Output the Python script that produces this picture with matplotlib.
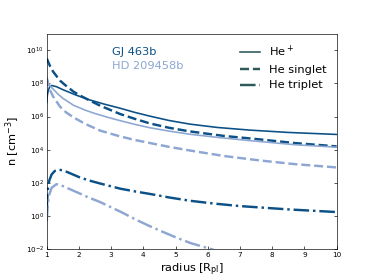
import numpy as np
import matplotlib
matplotlib.use("Agg")
import matplotlib.pyplot as plt

# values, log10 of n [cm^-3] against radius [R_pl]
gj_hep_r = [1.0, 1.02, 1.05, 1.1, 1.15, 1.3, 1.5, 1.9, 2.3, 2.8, 3.28, 3.75, 4.21, 4.8, 5.45, 6.3, 7.31, 8.5, 10.0]
gj_hep_n = [6.85, 7.3, 7.6, 7.82, 7.87, 7.8, 7.62, 7.3, 7.02, 6.74, 6.5, 6.24, 6.02, 5.76, 5.54, 5.34, 5.18, 5.04, 4.92]

gj_sing_r = [1.0, 1.1, 1.2, 1.41, 1.6, 1.83, 2.05, 2.3, 2.66, 3.28, 3.75, 4.21, 4.8, 5.45, 6.5, 7.62, 8.7, 10.0]
gj_sing_n = [9.5, 9.05, 8.7, 8.17, 7.85, 7.5, 7.25, 7.0, 6.65, 6.15, 5.85, 5.58, 5.32, 5.1, 4.83, 4.62, 4.4, 4.2]

gj_trip_r = [1.0, 1.02, 1.04, 1.08, 1.15, 1.25, 1.38, 1.55, 1.7, 2.0, 2.3, 2.66, 3.28, 3.75, 4.21, 4.8, 5.45, 6.2, 7.0, 8.5, 10.0]
gj_trip_n = [0.4, 1.2, 1.7, 2.15, 2.5, 2.72, 2.8, 2.72, 2.6, 2.35, 2.15, 1.96, 1.65, 1.48, 1.33, 1.12, 0.92, 0.75, 0.6, 0.4, 0.24]

hd_hep_r = [1.0, 1.05, 1.1, 1.2, 1.35, 1.5, 1.83, 2.2, 2.5, 2.9, 3.28, 3.75, 4.21, 4.8, 5.45, 6.5, 7.62, 8.7, 10.0]
hd_hep_n = [8.35, 8.0, 7.85, 7.65, 7.35, 7.1, 6.68, 6.38, 6.18, 5.95, 5.75, 5.52, 5.32, 5.12, 4.93, 4.7, 4.49, 4.3, 4.15]

hd_sing_r = [1.0, 1.05, 1.1, 1.2, 1.41, 1.6, 1.83, 2.2, 2.66, 3.28, 3.75, 4.21, 4.8, 5.45, 6.5, 7.62, 8.7, 10.0]
hd_sing_n = [8.35, 7.9, 7.6, 7.2, 6.6, 6.25, 5.95, 5.55, 5.15, 4.8, 4.58, 4.4, 4.17, 3.95, 3.62, 3.35, 3.13, 2.93]

hd_trip_r = [1.0, 1.02, 1.04, 1.08, 1.15, 1.3, 1.45, 1.6, 2.0, 2.3, 2.66, 3.3, 3.75, 4.21, 4.6, 5.0, 5.45, 6.2, 7.0]
hd_trip_n = [-0.3, 0.3, 0.8, 1.3, 1.7, 1.92, 1.85, 1.72, 1.38, 1.12, 0.84, 0.25, -0.2, -0.62, -0.95, -1.28, -1.62, -2.05, -2.4]

dark = '#0b5086'
light = '#8da6d2'
legcol = '#2f5a5a'

dpi = 58.4
fig = plt.figure(figsize=(374/dpi, 280/dpi), dpi=dpi)
ax = fig.add_subplot(111)

ax.plot(gj_hep_r, 10**np.array(gj_hep_n), '-', color=dark, lw=2)
ax.plot(gj_sing_r, 10**np.array(gj_sing_n), '--', color=dark, lw=3)
ax.plot(gj_trip_r, 10**np.array(gj_trip_n), '-.', color=dark, lw=3)
ax.plot(hd_hep_r, 10**np.array(hd_hep_n), '-', color=light, lw=2)
ax.plot(hd_sing_r, 10**np.array(hd_sing_n), '--', color=light, lw=3)
ax.plot(hd_trip_r, 10**np.array(hd_trip_n), '-.', color=light, lw=3)

# legend handles only
h1, = ax.plot([], [], '-', color=legcol, lw=2, label='He$^+$')
h2, = ax.plot([], [], '--', color=legcol, lw=3, label='He singlet')
h3, = ax.plot([], [], '-.', color=legcol, lw=3, label='He triplet')
ax.legend(handles=[h1, h2, h3], loc='upper right', frameon=False,
          fontsize=14, handlelength=1.7)

ax.text(0.225, 0.90, 'GJ 463b', color=dark, fontsize=14, transform=ax.transAxes)
ax.text(0.225, 0.835, 'HD 209458b', color=light, fontsize=14, transform=ax.transAxes)

ax.set_yscale('log')
ax.set_xlim(1, 10)
ax.set_ylim(1e-2, 1e11)
ax.set_yticks([10.0**k for k in range(-2, 11, 2)])
ax.minorticks_off()
ax.tick_params(direction='in', right=True, labelsize=9)
ax.set_xlabel('radius [R$_{\\rm pl}$]', fontsize=14)
ax.set_ylabel('n [cm$^{-3}$]', fontsize=14)

fig.savefig('out.png', dpi=dpi)
